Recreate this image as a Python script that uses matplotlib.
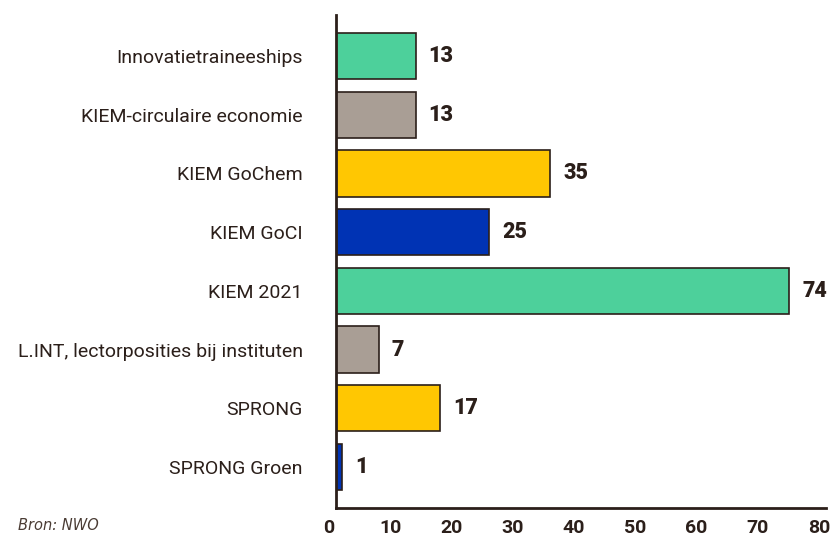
import matplotlib.pyplot as plt
from matplotlib.transforms import ScaledTranslation

categories = ['Innovatietraineeships', 'KIEM-circulaire economie', 'KIEM GoChem', 'KIEM GoCI',
              'KIEM 2021', 'L.INT, lectorposities bij instituten', 'SPRONG', 'SPRONG Groen']
values = [13, 13, 35, 25, 74, 7, 17, 1]
colors = ['#4dd09b', '#a99e95', '#ffc702', '#0033b4', '#4dd09b', '#a99e95', '#ffc702', '#0033b4']
xticks = [0, 10, 20, 30, 40, 50, 60, 70, 80]

dark = '#2b1f1a'

fig = plt.figure(figsize=(8.35, 5.37), dpi=100)
ax = fig.add_axes([0.4024, 0.054, 0.587, 0.918])

y = list(range(len(categories)))
ax.barh(y, values, height=0.79, color=colors, edgecolor=dark, linewidth=1.2, zorder=2)
ax.set_ylim(len(categories) - 0.3, -0.7)
ax.set_xlim(0, 79.3)

ax.set_yticks(y)
ax.set_yticklabels(categories, family=['Roboto', 'DejaVu Sans'], fontsize=14, color=dark)
ax.set_xticks(xticks)
ax.set_xticklabels([str(t) for t in xticks], fontsize=14, fontweight='bold',
                   family=['Roboto', 'DejaVu Sans'], color=dark)
ax.tick_params(length=0)
ax.tick_params(axis='y', pad=24)
ax.tick_params(axis='x', pad=8)
for lab in ax.get_xticklabels():
    lab.set_transform(lab.get_transform() + ScaledTranslation(-7 / 100, 0, fig.dpi_scale_trans))

for s in ['top', 'right']:
    ax.spines[s].set_visible(False)
for s in ['left', 'bottom']:
    ax.spines[s].set_color(dark)
    ax.spines[s].set_linewidth(2)

for i, v in enumerate(values):
    ax.annotate(str(v), (v, i), xytext=(13, 0), textcoords='offset pixels',
                va='center', ha='left', fontsize=15.5, fontweight='black',
                family=['Roboto', 'DejaVu Sans'], color=dark)

fig.text(18 / 835, 1 - 525 / 537, 'Bron: NWO', fontsize=10.5, style='italic', color='#4a3c34', va='center')

fig.savefig('out.png', dpi=100)
